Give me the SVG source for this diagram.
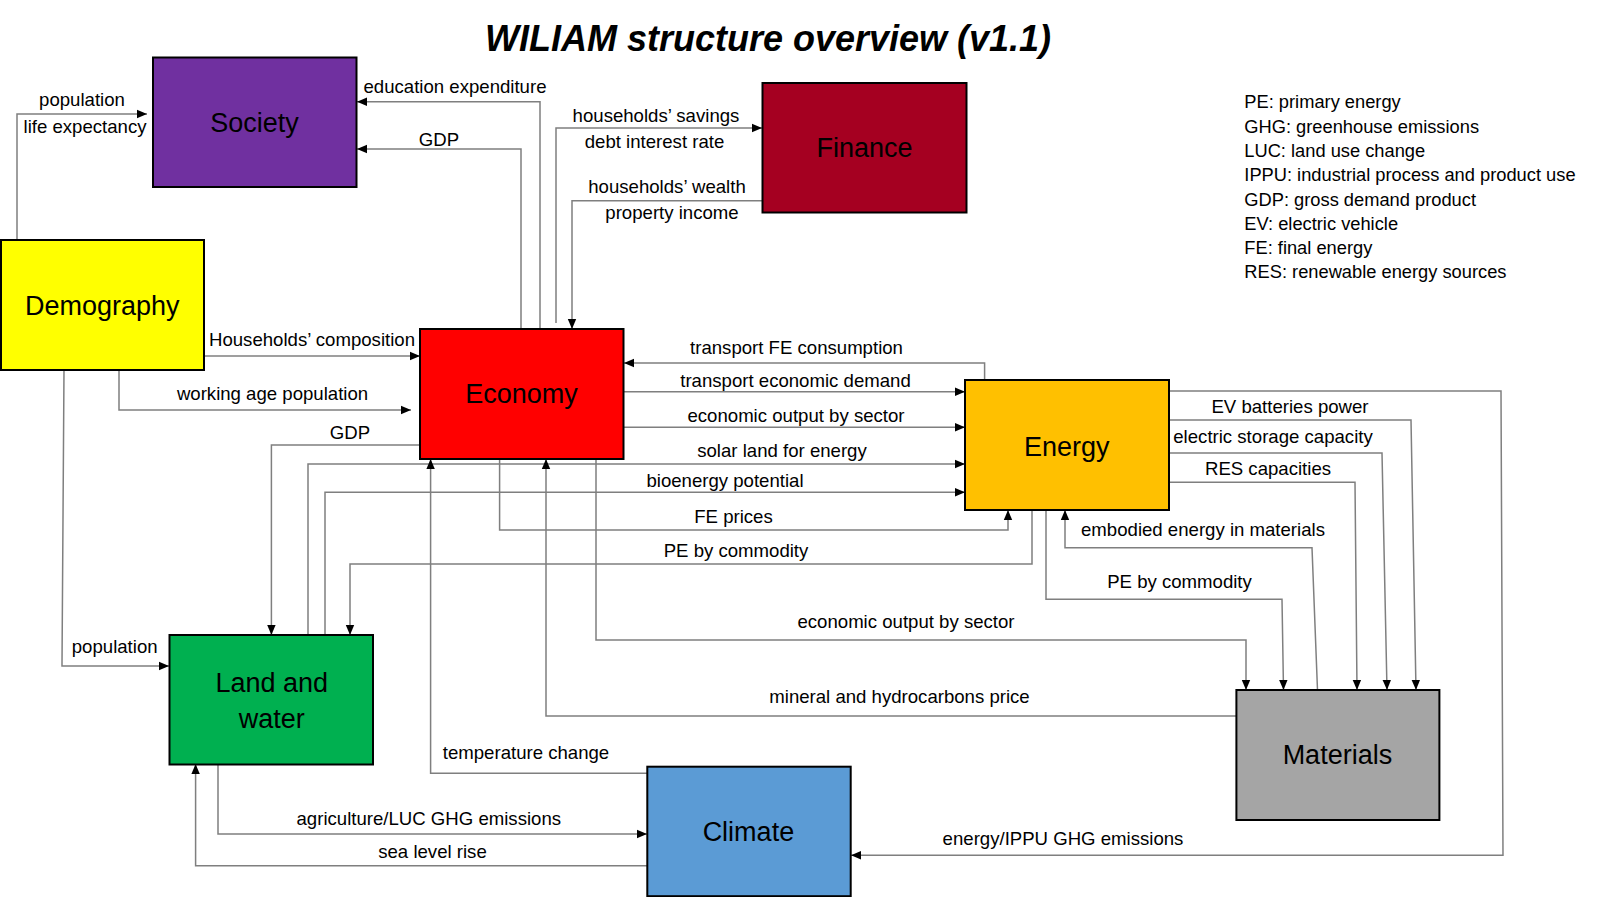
<svg xmlns="http://www.w3.org/2000/svg" width="1600" height="897" viewBox="0 0 1600 897">
<style>
.bx{stroke:#000;stroke-width:2}
.nl{font-family:"Liberation Sans",Arial,sans-serif;font-size:27px;fill:#000;text-anchor:middle}
.lb{font-family:"Liberation Sans",Arial,sans-serif;font-size:18.6px;fill:#000;text-anchor:middle}
.lg{font-family:"Liberation Sans",Arial,sans-serif;font-size:18.3px;fill:#000}
.cn path{fill:none;stroke:#7f7f7f;stroke-width:1.5}
.ar{marker-end:url(#arr)}
</style>
<defs>
<marker id="arr" viewBox="0 0 10 10" refX="10" refY="5" markerWidth="10" markerHeight="10" markerUnits="userSpaceOnUse" orient="auto">
<path d="M0,0.8 L10,5 L0,9.2 z" fill="#000"/>
</marker>
</defs>
<rect width="1600" height="897" fill="#fff"/>
<text x="768" y="51" style="font-family:'Liberation Sans',Arial,sans-serif;font-size:36px;font-weight:bold;font-style:italic;fill:#000;text-anchor:middle">WILIAM structure overview (v1.1)</text>

<g id="connectors" class="cn">
<path class="ar" d="M17,241 L17,114 L147,114"/>
<path class="ar" d="M540,329 L540,101.7 L357,101.7"/>
<path class="ar" d="M521,329 L521,149 L357,149"/>
<path class="ar" d="M204,356 L420,356"/>
<path class="ar" d="M119,369 L119,410 L411,410"/>
<path class="ar" d="M556,323 L556,128 L762,128"/>
<path class="ar" d="M763,200.7 L572,200.7 L572,329"/>
<path class="ar" d="M984.6,380 L984.6,363 L624,363"/>
<path class="ar" d="M624,391.7 L965,391.7"/>
<path class="ar" d="M624,427.3 L965,427.3"/>
<path class="ar" d="M308,635 L308,464 L965,464"/>
<path class="ar" d="M325,635 L325,492.3 L965,492.3"/>
<path class="ar" d="M420,445 L271.4,445 L271.4,635"/>
<path class="ar" d="M499.6,459 L499.6,530 L1008,530 L1008,510"/>
<path class="ar" d="M1032,510 L1032,564 L350,564 L350,635"/>
<path class="ar" d="M1317.5,690 L1312,547.7 L1065,547.7 L1065,510"/>
<path class="ar" d="M1046,510 L1046,599.3 L1282,599.3 L1283.5,690"/>
<path class="ar" d="M596,459 L596,640 L1246,640 L1246,690"/>
<path class="ar" d="M1236.4,716 L546,716 L546,459"/>
<path class="ar" d="M647,773.3 L430.6,773.3 L430.6,459"/>
<path class="ar" d="M1169,420 L1411,420 L1416,690"/>
<path class="ar" d="M1169,453 L1382,453 L1387,690"/>
<path class="ar" d="M1169,482.3 L1355,482.3 L1357,690"/>
<path class="ar" d="M1169,391 L1501,391 L1503,855.3 L851,855.3"/>
<path class="ar" d="M218,764 L218,834 L647,834"/>
<path class="ar" d="M647,865.7 L195.6,865.7 L195.6,764"/>
<path class="ar" d="M64,369 L62,666 L169,666"/>
</g>

<g id="connector-labels">
<text class="lb" x="82" y="106">population</text>
<text class="lb" x="85" y="132.7">life expectancy</text>
<text class="lb" x="455" y="93">education expenditure</text>
<text class="lb" x="439" y="146">GDP</text>
<text class="lb" x="656" y="121.7">households’ savings</text>
<text class="lb" x="654.5" y="148">debt interest rate</text>
<text class="lb" x="667" y="192.7">households’ wealth</text>
<text class="lb" x="672" y="219">property income</text>
<text class="lb" x="312" y="346">Households’ composition</text>
<text class="lb" x="272.5" y="400">working age population</text>
<text class="lb" x="350" y="439.3">GDP</text>
<text class="lb" x="796.5" y="354">transport FE consumption</text>
<text class="lb" x="795.5" y="386.7">transport economic demand</text>
<text class="lb" x="796" y="421.7">economic output by sector</text>
<text class="lb" x="782" y="456.7">solar land for energy</text>
<text class="lb" x="725" y="486.7">bioenergy potential</text>
<text class="lb" x="733.5" y="522.7">FE prices</text>
<text class="lb" x="736" y="557">PE by commodity</text>
<text class="lb" x="1290" y="412.7">EV batteries power</text>
<text class="lb" x="1273" y="443.3">electric storage capacity</text>
<text class="lb" x="1268" y="475">RES capacities</text>
<text class="lb" x="1203" y="536">embodied energy in materials</text>
<text class="lb" x="1179.5" y="588.3">PE by commodity</text>
<text class="lb" x="906" y="628.3">economic output by sector</text>
<text class="lb" x="899.5" y="703.3">mineral and hydrocarbons price</text>
<text class="lb" x="526" y="759.3">temperature change</text>
<text class="lb" x="114.7" y="652.7">population</text>
<text class="lb" x="428.8" y="825">agriculture/LUC GHG emissions</text>
<text class="lb" x="432.5" y="857.7">sea level rise</text>
<text class="lb" x="1063" y="845">energy/IPPU GHG emissions</text>
</g>

<g id="society"><rect class="bx" x="153" y="57.5" width="203.5" height="129.5" fill="#7030A0"/><text class="nl" x="254.5" y="131.5">Society</text></g>
<g id="finance"><rect class="bx" x="762.5" y="83" width="204" height="129.5" fill="#A50021"/><text class="nl" x="864.5" y="157.3">Finance</text></g>
<g id="demography"><rect class="bx" x="1" y="240" width="203" height="130" fill="#FFFF00"/><text class="nl" x="102.3" y="315">Demography</text></g>
<g id="economy"><rect class="bx" x="420" y="329" width="203.5" height="130" fill="#FF0000"/><text class="nl" x="521.5" y="403.3">Economy</text></g>
<g id="energy"><rect class="bx" x="965" y="380" width="204" height="130" fill="#FFC000"/><text class="nl" x="1066.8" y="455.5">Energy</text></g>
<g id="land-and-water"><rect class="bx" x="169.5" y="635" width="203.5" height="129.5" fill="#00B050"/><text class="nl" x="271.8" y="691.7">Land and</text><text class="nl" x="271.8" y="727.5">water</text></g>
<g id="climate"><rect class="bx" x="647.3" y="766.7" width="203.4" height="129.5" fill="#5B9BD5"/><text class="nl" x="748.4" y="841">Climate</text></g>
<g id="materials"><rect class="bx" x="1236.4" y="690" width="203" height="130" fill="#A5A5A5"/><text class="nl" x="1337.4" y="764">Materials</text></g>

<g id="legend">
<text class="lg" x="1244.3" y="108.3">PE: primary energy</text>
<text class="lg" x="1244.3" y="132.6">GHG: greenhouse emissions</text>
<text class="lg" x="1244.3" y="156.9">LUC: land use change</text>
<text class="lg" x="1244.3" y="181.2">IPPU: industrial process and product use</text>
<text class="lg" x="1244.3" y="205.5">GDP: gross demand product</text>
<text class="lg" x="1244.3" y="229.8">EV: electric vehicle</text>
<text class="lg" x="1244.3" y="254.1">FE: final energy</text>
<text class="lg" x="1244.3" y="278.4">RES: renewable energy sources</text>
</g>
</svg>
